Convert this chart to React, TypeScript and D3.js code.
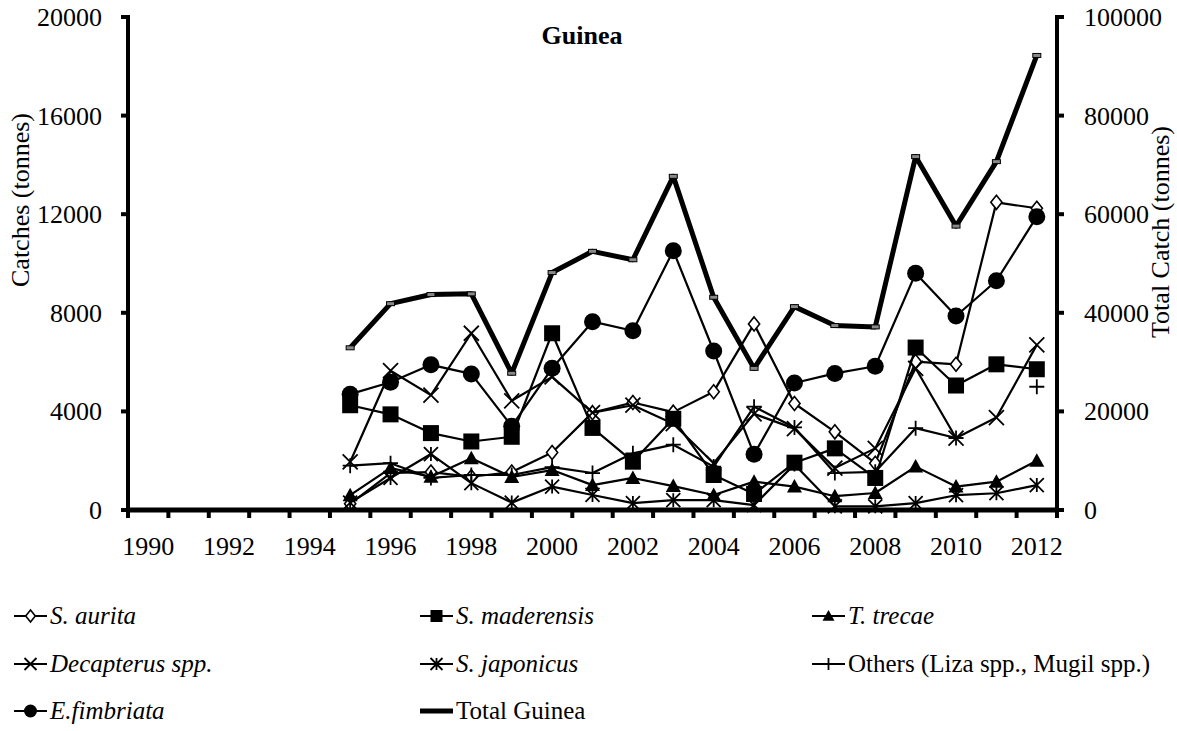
import React from "react";
import * as d3 from "d3";

const allYears: number[] = d3.range(1990, 2013);
const years: number[] = d3.range(1995, 2013);

const sAurita = [250, 1500, 1540, 1350, 1540, 2330, 3950, 4360, 3970, 4800, 7550, 4320, 3170, 1900, 6020, 5910, 12480, 12240];
const sMaderensis = [4250, 3880, 3120, 2780, 2970, 7170, 3330, 1960, 3700, 1420, 650, 1920, 2500, 1300, 6590, 5050, 5910, 5710];
const tTrecae = [600, 1700, 1350, 2100, 1340, 1620, 1010, 1300, 970, 610, 1150, 950, 560, 690, 1760, 950, 1150, 2000];
const decapterus = [1950, 5650, 4660, 7170, 4430, 5400, 3950, 4250, 3500, 1900, 3900, 3300, 1700, 2500, 5750, 2920, 3750, 6700];
const sJaponicus = [300, 1300, 2270, 1090, 300, 950, 610, 280, 400, 400, 200, 1850, 150, 150, 280, 600, 680, 1010];
const others: (number | null)[] = [1800, 1900, 1300, 1420, 1420, 1740, 1500, 2300, 2650, 1760, 4190, 3350, 1500, 1550, 3320, 2920, null, 5000];
const eFimbriata = [4700, 5180, 5890, 5520, 3400, 5750, 7640, 7270, 10520, 6450, 2260, 5150, 5540, 5830, 9600, 7870, 9300, 11900];
const totalGuinea = [32900, 41850, 43700, 43840, 27740, 48160, 52470, 50760, 67680, 43150, 28730, 41250, 37410, 37140, 71680, 57590, 70660, 92200];

const leftTicks = [0, 4000, 8000, 12000, 16000, 20000];
const rightTicks = [0, 20000, 40000, 60000, 80000, 100000];
const xTickYears = [1990, 1992, 1994, 1996, 1998, 2000, 2002, 2004, 2006, 2008, 2010, 2012];

type Marker = "diamond" | "square" | "triangle" | "x" | "asterisk" | "plus" | "circle" | "dash";

const seriesDefs: { name: string; values: (number | null)[]; marker: Marker; italic: boolean; total?: boolean }[] = [
  { name: "S. aurita", values: sAurita, marker: "diamond", italic: true },
  { name: "S. maderensis", values: sMaderensis, marker: "square", italic: true },
  { name: "T. trecae", values: tTrecae, marker: "triangle", italic: true },
  { name: "Decapterus spp.", values: decapterus, marker: "x", italic: true },
  { name: "S. japonicus", values: sJaponicus, marker: "asterisk", italic: true },
  { name: "Others (Liza spp., Mugil spp.)", values: others, marker: "plus", italic: false },
  { name: "E.fimbriata", values: eFimbriata, marker: "circle", italic: true },
  { name: "Total Guinea", values: totalGuinea, marker: "dash", italic: false, total: true },
];

const FONT = "'Liberation Serif', 'Times New Roman', serif";

function MarkerShape({ type, cx, cy, s }: { type: Marker; cx: number; cy: number; s: number }) {
  const h = s / 2;
  switch (type) {
    case "diamond":
      return <path d={`M${cx},${cy - h}L${cx + h * 0.8},${cy}L${cx},${cy + h}L${cx - h * 0.8},${cy}Z`} fill="#fff" stroke="#000" strokeWidth={1.6} />;
    case "square":
      return <rect x={cx - h} y={cy - h} width={s} height={s} fill="#000" />;
    case "triangle":
      return <path d={`M${cx},${cy - h}L${cx + h},${cy + h * 0.8}L${cx - h},${cy + h * 0.8}Z`} fill="#000" />;
    case "x":
      return <path d={`M${cx - h},${cy - h}L${cx + h},${cy + h}M${cx + h},${cy - h}L${cx - h},${cy + h}`} stroke="#000" strokeWidth={1.8} fill="none" />;
    case "asterisk":
      return <path d={`M${cx - h},${cy - h}L${cx + h},${cy + h}M${cx + h},${cy - h}L${cx - h},${cy + h}M${cx},${cy - h}L${cx},${cy + h}`} stroke="#000" strokeWidth={1.8} fill="none" />;
    case "plus":
      return <path d={`M${cx - h},${cy}L${cx + h},${cy}M${cx},${cy - h}L${cx},${cy + h}`} stroke="#000" strokeWidth={1.8} fill="none" />;
    case "circle":
      return <circle cx={cx} cy={cy} r={h} fill="#000" />;
    case "dash":
      return <rect x={cx - 4} y={cy - 2} width={8} height={4} fill="#888" stroke="#000" strokeWidth={1} />;
  }
  return null;
}

export default function App() {
  const W = 1177, H = 731;
  const left = 128, right = 1057, top = 17, bottom = 510;
  const x = d3.scaleBand<number>().domain(allYears).range([left, right]);
  const cx = (yr: number) => (x(yr) as number) + x.bandwidth() / 2;
  const yL = d3.scaleLinear().domain([0, 20000]).range([bottom, top]);
  const yR = d3.scaleLinear().domain([0, 100000]).range([bottom, top]);

  const markerSize: Record<Marker, number> = { diamond: 14, square: 16, triangle: 15, x: 15, asterisk: 14, plus: 15, circle: 17, dash: 8 };

  const legendCols = [14, 420, 812];
  const legendRows = [616, 664, 711];

  return (
    <svg width={W} height={H} style={{ position: "absolute", left: 0, top: 0, background: "#fff" }} fontFamily={FONT}>
      <rect x={0} y={0} width={W} height={H} fill="#fff" />
      {seriesDefs.map((s) => {
        const ys = s.total ? yR : yL;
        const pts = s.values.map((v, i) => ({ yr: years[i], v }));
        const line = d3
          .line<{ yr: number; v: number | null }>()
          .defined((d) => d.v != null)
          .x((d) => cx(d.yr))
          .y((d) => ys(d.v as number));
        return (
          <g key={s.name}>
            <path d={line(pts) || ""} fill="none" stroke="#000" strokeWidth={s.total ? 5 : 2.2} strokeLinejoin="round" />
            {pts.filter((d) => d.v != null).map((d) => (
              <MarkerShape key={d.yr} type={s.marker} cx={cx(d.yr)} cy={ys(d.v as number)} s={markerSize[s.marker]} />
            ))}
          </g>
        );
      })}
      <line x1={left} x2={left} y1={top - 2} y2={bottom + 2} stroke="#000" strokeWidth={4} />
      <line x1={right} x2={right} y1={top - 2} y2={bottom + 2} stroke="#000" strokeWidth={4} />
      <line x1={left - 2} x2={right + 2} y1={bottom} y2={bottom} stroke="#000" strokeWidth={5} />
      {leftTicks.map((t) => (
        <g key={"l" + t}>
          <line x1={left - 7} x2={left} y1={yL(t)} y2={yL(t)} stroke="#000" strokeWidth={4} />
          <text x={102} y={yL(t) + 9} textAnchor="end" fontSize={26}>{t}</text>
        </g>
      ))}
      {rightTicks.map((t) => (
        <g key={"r" + t}>
          <line x1={right} x2={right + 7} y1={yR(t)} y2={yR(t)} stroke="#000" strokeWidth={4} />
          <text x={1084} y={yR(t) + 9} textAnchor="start" fontSize={26}>{t}</text>
        </g>
      ))}
      {allYears.map((yr) => (
        <line key={"xt" + yr} x1={x(yr) as number} x2={x(yr) as number} y1={bottom} y2={bottom + 8} stroke="#000" strokeWidth={4} />
      ))}
      <line x1={right} x2={right} y1={bottom} y2={bottom + 8} stroke="#000" strokeWidth={4} />
      {xTickYears.map((yr) => (
        <text key={"xl" + yr} x={cx(yr)} y={555} textAnchor="middle" fontSize={26}>{yr}</text>
      ))}
      <text transform={`translate(29,200) rotate(-90)`} textAnchor="middle" fontSize={26}>Catches (tonnes)</text>
      <text transform={`translate(1169,232) rotate(-90)`} textAnchor="middle" fontSize={26}>Total Catch (tonnes)</text>
      <text x={582} y={44} textAnchor="middle" fontSize={26} fontWeight="bold">Guinea</text>
      {seriesDefs.map((s, i) => {
        const col = i % 3, row = Math.floor(i / 3);
        const lx = legendCols[col], ly = legendRows[row];
        return (
          <g key={"lg" + s.name}>
            <line x1={lx} x2={lx + 33} y1={ly} y2={ly} stroke="#000" strokeWidth={s.total ? 5 : 2.2} />
            {!s.total && <MarkerShape type={s.marker} cx={lx + 16.5} cy={ly} s={s.marker === "circle" ? 13 : 12} />}
            <text x={lx + 36} y={ly + 8} fontSize={25} fontStyle={s.italic ? "italic" : "normal"}>{s.name}</text>
          </g>
        );
      })}
    </svg>
  );
}
